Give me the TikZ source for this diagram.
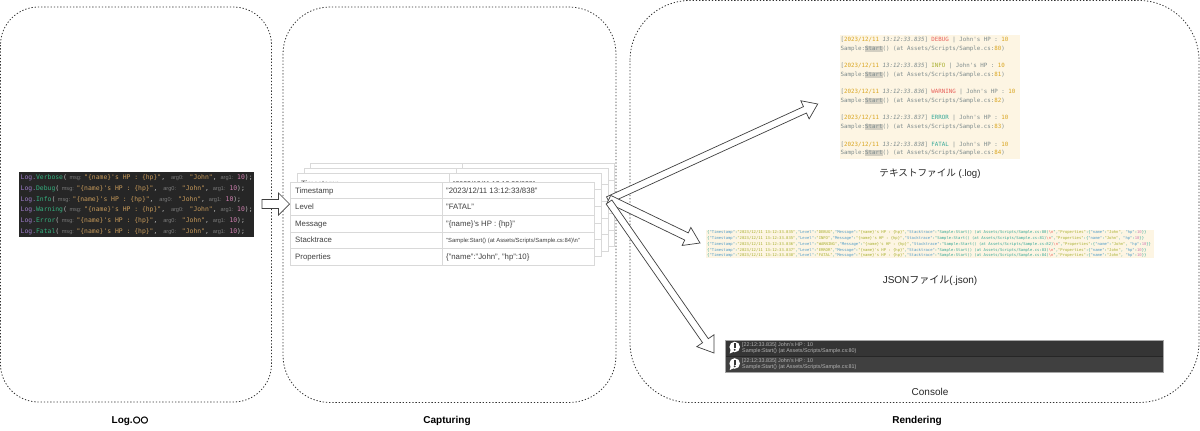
\documentclass[tikz,border=0pt]{standalone}
\usepackage{fontspec}
\usetikzlibrary{calc}
\setmainfont{Liberation Sans}
\newfontfamily\cjk{Noto Sans CJK JP}
\newfontfamily\mono{DejaVu Sans Mono}
\definecolor{panelline}{HTML}{333333}
\definecolor{codebg}{HTML}{262626}
\definecolor{cpurple}{HTML}{9D7CC9}
\definecolor{cgreen}{HTML}{35B07F}
\definecolor{cstr}{HTML}{C79A5A}
\definecolor{chint}{HTML}{7A7A7A}
\definecolor{cnum}{HTML}{D07FB0}
\definecolor{cgrid}{HTML}{D9D9D9}
\definecolor{logbg}{HTML}{FDF5E3}
\definecolor{lgray}{HTML}{7F8C8D}
\definecolor{lgold}{HTML}{D9A520}
\definecolor{lred}{HTML}{E8605A}
\definecolor{lolive}{HTML}{A8B030}
\definecolor{lteal}{HTML}{35A898}
\definecolor{lhi}{HTML}{D3CFC2}
\definecolor{jblue}{HTML}{4E9BC8}
\definecolor{consbg}{HTML}{353535}
\definecolor{consbgb}{HTML}{404040}
\definecolor{constxt}{HTML}{B4B4B4}
\tikzset{
  x=1pt,y=-1pt,
  panel/.style={draw=panelline,dash pattern=on 1.3pt off 1.9pt,line width=0.8pt},
  blockarrow/.style={draw=black!75,fill=white,line width=0.7pt,line join=miter},
  txt/.style={inner sep=0pt,anchor=base west,font=\fontsize{7.8}{9}\selectfont,text=black!75},
  code/.style={inner sep=0pt,anchor=base west,font=\mono\fontsize{6.4}{7}\selectfont},
  logline/.style={inner sep=0pt,anchor=base west,font=\mono\fontsize{5.8}{7}\selectfont,text=lgray},
  jsonline/.style={inner sep=0pt,anchor=base west,font=\mono\fontsize{3.86}{5}\selectfont,text=lteal},
  consline/.style={inner sep=0pt,anchor=base west,font=\fontsize{5.4}{6}\selectfont,text=constxt},
  caption/.style={inner sep=0pt,font=\fontsize{10}{12}\selectfont,text=black!85},
  heading/.style={inner sep=0pt,font=\bfseries\fontsize{10}{12}\selectfont,text=black},
}
\newcommand{\tbl}[3]{% left, top, name
  \draw[cgrid,fill=white,line width=0.6pt] (#1,#2) rectangle ++(304,83);
  \foreach \r in {1,2,3,4}{\draw[cgrid,line width=0.6pt] (#1,#2+16.6*\r) -- ++(304,0);}
  \draw[cgrid,line width=0.6pt] (#1+152,#2) -- ++(0,83);
}
\newcommand{\logentry}[6]{%
  \node[logline] (#6a) at (840.5,#1) {[\textcolor{lgold}{2023/12/11} \textit{13:12:33.#2}] \textcolor{#3}{#4} | John's HP : \textcolor{lgold}{10}};
  \fill[lhi] (865.2,#5-4.5) rectangle ++(17.4,6.2);
  \node[logline] (#6b) at (840.5,#5) {Sample:Start() (at Assets/Scripts/Sample.cs:\textcolor{lgold}{#6})};
}
\newcommand{\hint}[2]{\makebox[#1pt][c]{\rmfamily\fontsize{5.6}{6}\selectfont\textcolor{chint}{#2}}}
\newcommand{\codeline}[2]{%
  \node[code] (c#2) at (20.5,#1) {\textcolor{cpurple}{Log.}\textcolor{cgreen}{#2}\textcolor{white!75!black}{(}\hint{17.3}{msg:}\textcolor{cstr}{"\{name\}'s HP : \{hp\}"}\textcolor{white!75!black}{,}\hint{24.5}{arg0:}\textcolor{cstr}{"John"}\textcolor{white!75!black}{,}\hint{20.6}{arg1:}\textcolor{cnum}{10}\textcolor{white!75!black}{);}};
}
\newcommand{\jsonline}[4]{%
  \node[jsonline] (j#3) at (707,#1) {\{\textcolor{jblue}{"Timestamp"}:\textcolor{lolive}{"2023/12/11 13:12:33.#2"},\textcolor{jblue}{"Level"}:\textcolor{lolive}{"#3"},\textcolor{jblue}{"Message"}:\textcolor{lolive}{"\{name\}'s HP : \{hp\}"},\textcolor{jblue}{"Stacktrace"}:"Sample:Start() (at Assets/Scripts/Sample.cs:#4)\textcolor{lred}{\textbackslash n}",\textcolor{lolive}{"Properties"}:\{\textcolor{jblue}{"name"}:\textcolor{lolive}{"John"}, \textcolor{jblue}{"hp"}:\textcolor{cnum}{10}\}\}};
}
\newcommand{\bubble}[2]{%
  \fill[white] (#1,#2) circle (5.3pt);
  \fill[white] (#1-4,#2+2.5) -- (#1-5,#2+6.5) -- (#1-1,#2+4.8) -- cycle;
  \fill[consbg] (#1-1.1,#2-3.6) rectangle (#1+1.1,#2+1);
  \fill[consbg] (#1,#2+2.8) circle (1.05pt);
}
\newcommand{\barrow}[6]{% tail, tip, shaft half, head half, head len, name
  \coordinate (#6base) at ($(#2)!#5pt!(#1)$);
  \draw[blockarrow] ($(#1)!#3pt!90:(#2)$) -- ($(#6base)!#3pt!90:(#2)$) -- ($(#6base)!#4pt!90:(#2)$) -- (#2) -- ($(#6base)!#4pt!-90:(#2)$) -- ($(#6base)!#3pt!-90:(#2)$) -- ($(#1)!#3pt!-90:(#2)$) -- cycle;
}
\begin{document}
\begin{tikzpicture}
\useasboundingbox (0,0) rectangle (1200,431);
\fill[white] (0,0) rectangle (1200,431);
% panels
\draw[panel,rounded corners=38pt] (0.5,7) rectangle (271.5,402);
\draw[panel,rounded corners=47pt] (283,7) rectangle (616,402.5);
\draw[panel,rounded corners=60pt] (630,0.5) rectangle (1199,402.5);
% code
\fill[codebg] (19,172) rectangle (254,237);
\codeline{179}{Verbose}
\codeline{190}{Debug}
\codeline{201}{Info}
\codeline{211.5}{Warning}
\codeline{222}{Error}
\codeline{233}{Fatal}
% stacked tables
\tbl{310.5}{163.5}{t4}
\tbl{303.8}{168}{t3}
\tbl{297}{173}{t2}
\node[txt] (t2a) at (301,186) {Timestamp};
\node[txt,font=\fontsize{7}{8}\selectfont] (t2b) at (453,186) {"2023/12/11 13:12:33/838"};
\tbl{290}{182}{t1}
\foreach \nm/\lab/\v/\yy in {ta/Timestamp/{"2023/12/11 13:12:33/838"}/193,tb/Level/{"FATAL"}/209.6,tc/Message/{"\{name\}'s HP : \{hp\}"}/226.2,te/Properties/{\{"name":"John", "hp":10\}}/259.4}{
  \node[txt] (\nm l) at (295,\yy-0) {\lab};
  \node[txt] (\nm v) at (446,\yy-0) {\v};
}
\node[txt] (tdl) at (295,242.8) {Stacktrace};
\node[txt,font=\fontsize{5.9}{7}\selectfont] (tdv) at (446,242.3) {"Sample:Start() (at Assets/Scripts/Sample.cs:84)\textbackslash n"};
% log file
\fill[logbg] (840,35) rectangle (1020,159);
\logentry{41}{835}{lred}{DEBUG}{50.5}{80}
\logentry{67.5}{835}{lolive}{INFO}{76.5}{81}
\logentry{93.5}{836}{lred}{WARNING}{102.5}{82}
\logentry{119.5}{837}{lteal}{ERROR}{128.5}{83}
\logentry{146}{838}{lteal}{FATAL}{154.5}{84}
\node[caption,font=\fontsize{9.6}{12}\selectfont] (logcap) at (930,174) {{\cjk テキストファイル} (.log)};
% json
\fill[logbg] (706,230) rectangle (1154,258);
\jsonline{233.3}{835}{DEBUG}{80}
\jsonline{239}{835}{INFO}{81}
\jsonline{245}{836}{WARNING}{82}
\jsonline{251}{837}{ERROR}{83}
\jsonline{256.6}{838}{FATAL}{84}
\node[caption] (jsoncap) at (930,281) {JSON{\cjk ファイル}(.json)};
% console
\fill[consbg] (725,340) rectangle (1163,356);
\fill[consbgb] (725,356) rectangle (1163,372);
\draw[black!85,line width=0.4pt] (725,356) -- (1163,356);
\draw[black!35,line width=0.4pt] (725,340) rectangle (1163,372);
\bubble{734.7}{347}
\bubble{734.7}{363.5}
\node[consline] (k1) at (742,346) {[22:12:33.835] John's HP : 10};
\node[consline] (k2) at (742,352) {Sample:Start() (at Assets/Scripts/Sample.cs:80)};
\node[consline] (k3) at (742,362) {[22:12:33.835] John's HP : 10};
\node[consline] (k4) at (742,368) {Sample:Start() (at Assets/Scripts/Sample.cs:81)};
\node[caption] (conscap) at (930,392) {Console};
% headings
\node[heading] (h1) at (130,421) {Log.{\cjk\bfseries\fontsize{7.8}{10}\selectfont 〇〇}};
\node[heading] (h2) at (447,421) {Capturing};
\node[heading] (h3) at (917,421) {Rendering};
% arrows
\coordinate (a0) at (262,204);
\coordinate (a1) at (289.5,204);
\barrow{a0}{a1}{4.5}{11}{11}{ar}
\coordinate (s1) at (608,200);
\coordinate (e1) at (817.7,104);
\coordinate (s2) at (609,199);
\coordinate (e2) at (700,243);
\coordinate (s3) at (609,202);
\coordinate (e3) at (714,353);
\barrow{s1}{e1}{3.5}{10}{14}{arA}
\barrow{s2}{e2}{4}{10}{15}{arB}
\barrow{s3}{e3}{3.5}{10.5}{15}{arC}
\end{tikzpicture}
\end{document}
